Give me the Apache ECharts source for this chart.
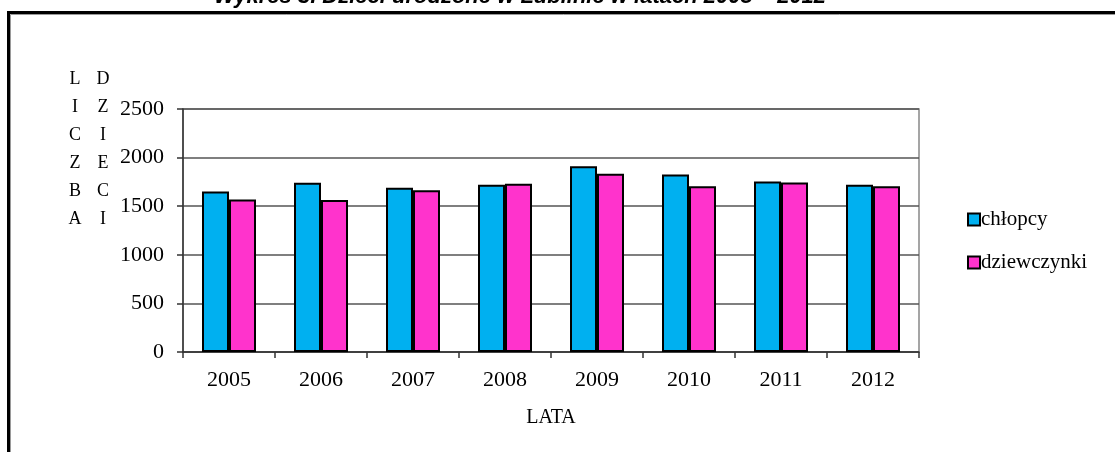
<!DOCTYPE html>
<html>
<head>
<meta charset="utf-8">
<script src="https://cdn.jsdelivr.net/npm/echarts@6/dist/echarts.min.js"></script>
<style>
html,body{margin:0;padding:0;background:#fff;}
#chart{width:1115px;height:452px;}
</style>
</head>
<body>
<div id="chart"></div>
<script>
var titleText = 'Wykres 3. Dzieci urodzone w Lublinie w latach 2005 – 2012';
var years = ['2005', '2006', '2007', '2008', '2009', '2010', '2011', '2012'];
var seriesNames = ['chłopcy', 'dziewczynki'];
var boys = [1650, 1740, 1690, 1720, 1910, 1825, 1755, 1720];
var girls = [1570, 1565, 1665, 1730, 1835, 1705, 1745, 1705];
var yTicks = [0, 500, 1000, 1500, 2000, 2500];
var yNameCol1 = ['L', 'I', 'C', 'Z', 'B', 'A'];
var yNameCol2 = ['D', 'Z', 'I', 'E', 'C', 'I'];
var xName = 'LATA';

var serif = '"Liberation Serif", "DejaVu Serif", serif';
var chart = echarts.init(document.getElementById('chart'), null, {renderer: 'canvas'});
chart.setOption({
  animation: false,
  backgroundColor: '#fff',
  graphic: [
    {type: 'rect', shape: {x: 8.5, y: 12.5, width: 1200, height: 600}, style: {fill: 'none', stroke: '#000', lineWidth: 3}, z: 10},
    {type: 'rect', shape: {x: 10.5, y: 14.5, width: 1200, height: 600}, style: {fill: 'none', stroke: '#9a9a9a', lineWidth: 1}, z: 10},
    {type: 'text', x: 520, y: -14.5, style: {text: titleText, font: 'italic bold 22px "Liberation Sans", Arial, sans-serif', fill: '#000', textAlign: 'center'}, z: 10},
    {type: 'text', x: 75, y: 65, style: {text: yNameCol1.join('\n'), font: '18px ' + serif, lineHeight: 28, fill: '#000', textAlign: 'center'}, z: 10},
    {type: 'text', x: 103, y: 65, style: {text: yNameCol2.join('\n'), font: '18px ' + serif, lineHeight: 28, fill: '#000', textAlign: 'center'}, z: 10}
  ],
  grid: {left: 183, right: 196, top: 109, bottom: 100, show: true, borderColor: '#888', borderWidth: 1.5, backgroundColor: 'transparent'},
  legend: {
    orient: 'vertical', left: 962, top: 204, itemGap: 22, itemWidth: 12, itemHeight: 12,
    icon: 'rect',
    data: seriesNames,
    textStyle: {fontFamily: serif, fontSize: 21, color: '#000', padding: [0, 0, 0, -4]}
  },
  xAxis: {
    type: 'category', data: years,
    name: xName, nameLocation: 'middle', nameGap: 56,
    nameTextStyle: {fontFamily: serif, fontSize: 20, color: '#000'},
    axisLine: {lineStyle: {color: '#333', width: 1.5}},
    axisTick: {show: true, alignWithLabel: false, length: 6, lineStyle: {color: '#333', width: 1.5}},
    axisLabel: {fontFamily: serif, fontSize: 22, color: '#000', margin: 17},
    splitLine: {show: false}
  },
  yAxis: {
    type: 'value', min: yTicks[0], max: yTicks[yTicks.length - 1], interval: yTicks[1] - yTicks[0],
    axisLine: {show: true, lineStyle: {color: '#333', width: 1.5}},
    axisTick: {show: true, length: 6, lineStyle: {color: '#333', width: 1.5}},
    axisLabel: {fontFamily: serif, fontSize: 22, color: '#000', margin: 19, formatter: function (v) { return String(v); }},
    splitLine: {show: true, lineStyle: {color: '#555', width: 1.5}}
  },
  series: [
    {name: seriesNames[0], type: 'bar', data: boys, barWidth: 27, barGap: '0%',
     itemStyle: {color: '#00B0F0', borderColor: '#000', borderWidth: 2}},
    {name: seriesNames[1], type: 'bar', data: girls, barWidth: 27, barGap: '0%',
     itemStyle: {color: '#FF33CC', borderColor: '#000', borderWidth: 2}}
  ]
});
</script>
</body>
</html>
